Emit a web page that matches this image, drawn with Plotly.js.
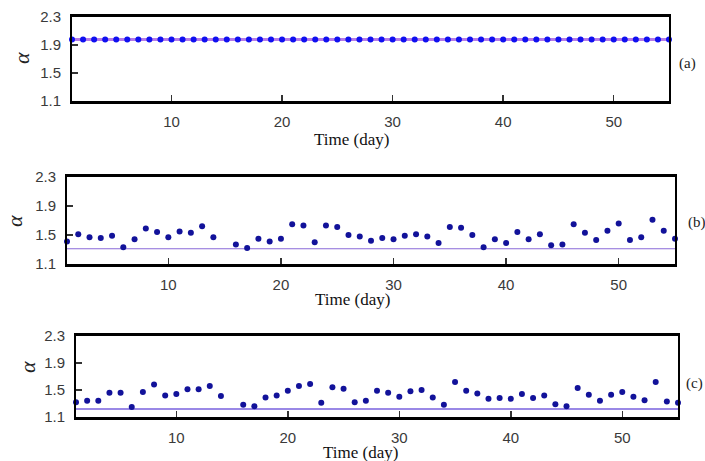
<!DOCTYPE html>
<html>
<head>
<meta charset="utf-8">
<script src="https://cdn.plot.ly/plotly-3.0.1.min.js"></script>
<style>html,body{margin:0;padding:0;background:#fff}#chart{width:705px;height:461px}</style>
</head>
<body>
<div id="chart"></div>
<script>
// ---- data ----
var days = [1,2,3,4,5,6,7,8,9,10,11,12,13,14,15,16,17,18,19,20,21,22,23,24,25,26,27,28,29,30,31,32,33,34,35,36,37,38,39,40,41,42,43,44,45,46,47,48,49,50,51,52,53,54,55];
var alphaA = [1.98,1.98,1.98,1.98,1.98,1.98,1.98,1.98,1.98,1.98,1.98,1.98,1.98,1.98,1.98,1.98,1.98,1.98,1.98,1.98,1.98,1.98,1.98,1.98,1.98,1.98,1.98,1.98,1.98,1.98,1.98,1.98,1.98,1.98,1.98,1.98,1.98,1.98,1.98,1.98,1.98,1.98,1.98,1.98,1.98,1.98,1.98,1.98,1.98,1.98,1.98,1.98,1.98,1.98,1.98];
var alphaB = [1.41,1.51,1.47,1.46,1.49,1.33,1.44,1.59,1.54,1.47,1.55,1.53,1.62,1.47,null,1.37,1.32,1.45,1.41,1.45,1.65,1.63,1.40,1.63,1.61,1.50,1.48,1.42,1.46,1.44,1.49,1.51,1.48,1.39,1.61,1.60,1.50,1.33,1.44,1.39,1.54,1.44,1.51,1.36,1.37,1.65,1.53,1.43,1.56,1.66,1.43,1.47,1.71,1.56,1.45];
var alphaC = [1.32,1.34,1.34,1.46,1.46,1.25,1.47,1.58,1.42,1.44,1.51,1.51,1.56,1.41,null,1.28,1.26,1.39,1.42,1.49,1.56,1.59,1.31,1.54,1.52,1.32,1.34,1.49,1.46,1.40,1.48,1.50,1.39,1.28,1.62,1.49,1.45,1.37,1.38,1.37,1.44,1.38,1.42,1.29,1.26,1.53,1.43,1.34,1.43,1.47,1.40,1.35,1.62,1.33,1.31];
var thresholds = [1.98, 1.31, 1.22];
var xTicks = [10,20,30,40,50];
var yTicks = [1.1,1.5,1.9,2.3];
var yTickText = ['1.1','1.5','1.9','2.3'];
var panelLabels = ['(a)','(b)','(c)'];
var xLabel = 'Time (day)';
var yLabel = '\u03b1';

// ---- layout helpers ----
var W = 705, H = 461;
function px(x){return x/W;}
function py(y){return 1 - y/H;}
var panels = [
  {l:72, r:669, t:17, b:101, lineColor:'#b57be8', lineWidth:3, dot:'#1010f0', tx:351, ty:140, ax:22, ay:58, lx:687, ly:63},
  {l:67, r:675, t:177, b:264, lineColor:'#8a6ad8', lineWidth:1.2, dot:'#12129a', tx:352, ty:299, ax:15, ay:221, lx:697, ly:222},
  {l:76, r:678, t:336, b:417, lineColor:'#9a88e6', lineWidth:2, dot:'#12129a', tx:360, ty:452, ax:27, ay:367, lx:694, ly:383}
];
var series = [alphaA, alphaB, alphaC];

var tickFont = {family:'"Liberation Sans Narrow", "Liberation Sans", Arial, sans-serif', size:15, color:'#3a3a3a'};
var serif = '"Liberation Serif", "Times New Roman", serif';

var traces = [];
var layout = {
  width:W, height:H, margin:{l:0,r:0,t:0,b:0},
  paper_bgcolor:'#fff', plot_bgcolor:'#fff', showlegend:false,
  annotations:[]
};
panels.forEach(function(p, i){
  var sfx = i === 0 ? '' : String(i+1);
  var xa = 'x' + sfx, ya = 'y' + sfx;
  traces.push({
    x:[days[0], days[days.length-1]], y:[thresholds[i], thresholds[i]],
    xaxis:xa, yaxis:ya, mode:'lines', type:'scatter',
    line:{color:p.lineColor, width:p.lineWidth}, hoverinfo:'skip', cliponaxis:false
  });
  traces.push({
    x:days, y:series[i], xaxis:xa, yaxis:ya, mode:'markers', type:'scatter',
    marker:{color:p.dot, size:6}, cliponaxis:false
  });
  layout['xaxis' + sfx] = {
    domain:[px(p.l), px(p.r)], anchor:ya, range:[1,55],
    showline:true, mirror:true, linecolor:'#000', linewidth:3,
    showgrid:false, zeroline:false,
    tickmode:'array', tickvals:xTicks, ticktext:xTicks.map(String),
    ticks:'inside', ticklen:6, tickwidth:1.5, tickcolor:'#333',
    tickfont:tickFont, ticklabelstandoff:5
  };
  layout['yaxis' + sfx] = {
    domain:[py(p.b), py(p.t)], anchor:xa, range:[1.1,2.3],
    showline:true, mirror:true, linecolor:'#000', linewidth:2,
    showgrid:false, zeroline:false,
    tickmode:'array', tickvals:yTicks, ticktext:yTickText,
    ticks:'inside', ticklen:6, tickwidth:1.5, tickcolor:'#333',
    tickfont:tickFont, ticklabelstandoff:6
  };
  layout.annotations.push({
    xref:'paper', yref:'paper', x:px(p.tx), y:py(p.ty), text:xLabel, showarrow:false,
    xanchor:'center', yanchor:'middle', font:{family:serif, size:17, color:'#111'}
  });
  layout.annotations.push({
    xref:'paper', yref:'paper', x:px(p.ax), y:py(p.ay), text:'<i>' + yLabel + '</i>', showarrow:false,
    xanchor:'center', yanchor:'middle', textangle:-90, font:{family:serif, size:22, color:'#222'}
  });
  layout.annotations.push({
    xref:'paper', yref:'paper', x:px(p.lx), y:py(p.ly), text:panelLabels[i], showarrow:false,
    xanchor:'center', yanchor:'middle', font:{family:serif, size:15, color:'#222'}
  });
});

Plotly.newPlot('chart', traces, layout, {displayModeBar:false, staticPlot:true});
</script>
</body>
</html>
